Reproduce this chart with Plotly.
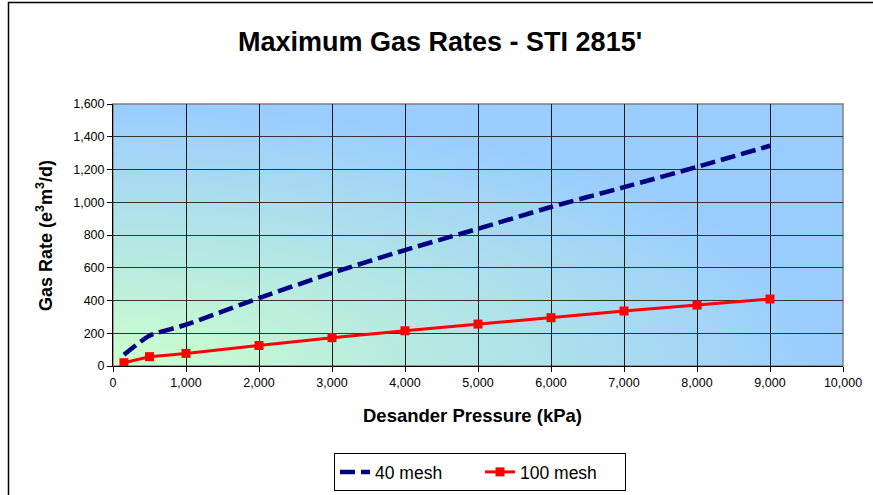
import base64
import plotly.graph_objects as go

# ---- data ----
pressure = [150, 500, 1000, 2000, 3000, 4000, 5000, 6000, 7000, 8000, 9000]
mesh40 = [69, 185, 252, 415, 568, 708, 838, 971, 1092, 1216, 1345]
mesh100 = [20, 57, 77, 125, 173, 215, 256, 295, 336, 372, 409]
x_ticks = list(range(0, 10001, 1000))
y_ticks = list(range(0, 1601, 200))

W, H = 873, 495
L, R, T, B = 113, 30, 104, 129

svg = (
    '<svg xmlns="http://www.w3.org/2000/svg" width="730" height="262" viewBox="0 0 730 262" preserveAspectRatio="none">'
    '<defs><radialGradient id="g" cx="0" cy="1" r="1" fx="0" fy="1" gradientUnits="objectBoundingBox">'
    '<stop offset="0" stop-color="#CCFFCC"/><stop offset="1" stop-color="#99CCFF"/>'
    '</radialGradient></defs>'
    '<rect x="0" y="0" width="730" height="262" fill="url(#g)"/></svg>'
)
src = "data:image/svg+xml;base64," + base64.b64encode(svg.encode()).decode()

fig = go.Figure()
fig.add_trace(go.Scatter(
    x=pressure, y=mesh40, mode="lines", name="40 mesh",
    line=dict(color="#000080", width=4.5, dash="15px,6px", shape="spline", smoothing=0.6),
))
fig.add_trace(go.Scatter(
    x=pressure, y=mesh100, mode="lines+markers", name="100 mesh",
    line=dict(color="#FF0000", width=3),
    marker=dict(symbol="square", size=9, color="#FF0000"),
))

font = "Liberation Sans, Arial, sans-serif"
pw, ph = W - L - R, H - T - B

def px2paper_x(px):
    return (px - L) / pw

def px2paper_y(py):
    return (H - B - py) / ph

fig.update_layout(
    width=W, height=H,
    margin=dict(l=L, r=R, t=T, b=B, pad=0, autoexpand=False),
    paper_bgcolor="white",
    plot_bgcolor="rgba(0,0,0,0)",
    font=dict(family=font, color="black", size=12.5),
    showlegend=True,
    legend=dict(
        orientation="h", x=px2paper_x(480), xanchor="center",
        y=px2paper_y(453), yanchor="top",
        bordercolor="black", borderwidth=1, bgcolor="white",
        font=dict(size=17.5, family=font),
        entrywidth=100,
    ),
    images=[dict(source=src, xref="paper", yref="paper", x=0, y=1, sizex=1, sizey=1,
                 sizing="stretch", layer="below", xanchor="left", yanchor="top")],
    xaxis=dict(
        range=[0, 10000], tickvals=x_ticks, tickformat=",d",
        showgrid=True, gridcolor="#1a1a1a", gridwidth=1,
        showline=True, linecolor="black", linewidth=1,
        ticks="outside", ticklen=5, tickcolor="black",
        zeroline=False, tickfont=dict(size=12.5, family=font),
    ),
    yaxis=dict(
        range=[0, 1600], tickvals=y_ticks, tickformat=",d",
        showgrid=True, gridcolor="#333333", gridwidth=1.3,
        showline=True, linecolor="black", linewidth=1,
        ticks="outside", ticklen=5, tickcolor="black",
        zeroline=False, tickfont=dict(size=12.5, family=font),
    ),
    shapes=[
        dict(type="rect", xref="paper", yref="paper", x0=0, y0=0, x1=1, y1=1,
             line=dict(color="#808080", width=1.5), layer="below"),
        dict(type="rect", xref="paper", yref="paper",
             x0=px2paper_x(8.5), y0=px2paper_y(2.5), x1=px2paper_x(890), y1=px2paper_y(510),
             line=dict(color="black", width=1.5)),
    ],
    annotations=[
        dict(text="<b>Maximum Gas Rates - STI 2815'</b>", xref="paper", yref="paper",
             x=px2paper_x(440), y=px2paper_y(42), xanchor="center", yanchor="middle",
             showarrow=False, font=dict(size=27, family=font)),
        dict(text="<b>Desander Pressure (kPa)</b>", xref="paper", yref="paper",
             x=px2paper_x(472), y=px2paper_y(415), xanchor="center", yanchor="middle",
             showarrow=False, font=dict(size=18.5, family=font)),
        dict(text="<b>Gas Rate (e<sup>3</sup>m<sup>3</sup>/d)</b>", xref="paper", yref="paper",
             x=px2paper_x(44), y=px2paper_y(236), xanchor="center", yanchor="middle",
             textangle=-90, showarrow=False, font=dict(size=18, family=font)),
    ],
)

fig.write_html("out.html", config={"displayModeBar": False},
               post_script="document.body.style.margin='0';document.body.style.overflow='hidden';")
